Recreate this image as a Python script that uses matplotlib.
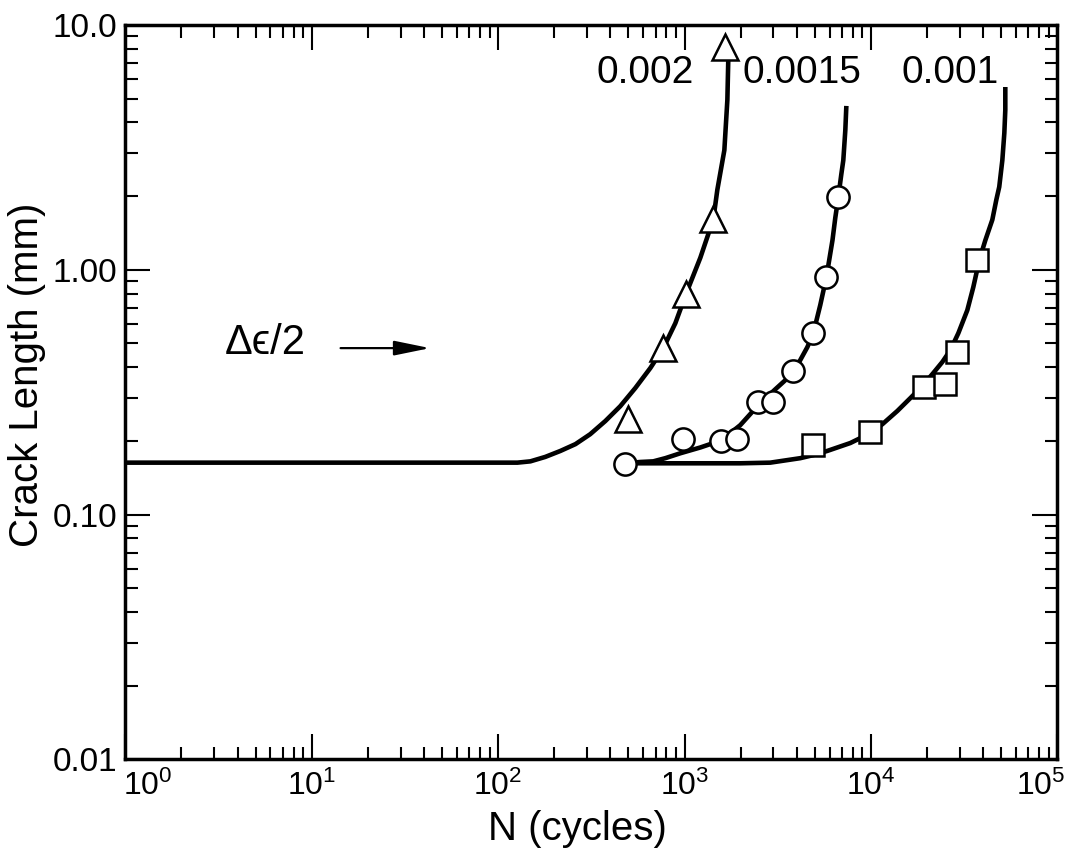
import matplotlib
matplotlib.use("Agg")
import matplotlib.pyplot as plt
import matplotlib.transforms as mtransforms
from matplotlib.ticker import LogLocator, NullFormatter, FixedLocator, FixedFormatter

plt.rcParams['font.family'] = ['Liberation Sans', 'DejaVu Sans']
plt.rcParams['mathtext.fontset'] = 'custom'
plt.rcParams['mathtext.rm'] = 'Liberation Sans'

# measured points, strain amplitude 0.002 (triangles)
n_002 = [500, 770, 1020, 1430, 1650]
a_002 = [0.245, 0.48, 0.80, 1.61, 8.1]

# strain amplitude 0.0015 (circles)
n_0015 = [480, 985, 1575, 1920, 2490, 3000, 3840, 4910, 5770, 6690]
a_0015 = [0.161, 0.203, 0.200, 0.203, 0.288, 0.289, 0.385, 0.551, 0.933, 1.98]

# strain amplitude 0.001 (squares)
n_001 = [4910, 9930, 19350, 25060, 29100, 37200]
a_001 = [0.192, 0.217, 0.332, 0.341, 0.461, 1.10]

# fitted growth curves (the 0.002 one carries the common plateau from N=1)
fit_n_002 = [1, 127, 149, 179, 216, 260, 312, 376, 452, 545, 656, 770, 893,
             1023, 1216, 1428, 1500, 1636, 1698, 1718]
fit_a_002 = [0.163, 0.163, 0.165, 0.172, 0.182, 0.194, 0.213, 0.241, 0.277,
             0.329, 0.397, 0.479, 0.605, 0.803, 1.12, 1.61, 2.12, 3.08, 4.94, 7.33]

fit_n_0015 = [481, 579, 680, 789, 949, 1216, 1575, 1992, 2489, 3070, 3474, 3836,
              4180, 4560, 4910, 5350, 5770, 6220, 6440, 6685, 6930, 7110, 7290, 7383]
fit_a_0015 = [0.162, 0.164, 0.165, 0.170, 0.178, 0.188, 0.201, 0.232, 0.280,
              0.325, 0.354, 0.385, 0.428, 0.483, 0.551, 0.718, 0.933, 1.32,
              1.63, 1.98, 2.44, 2.80, 3.72, 4.67]

fit_n_001 = [481, 741, 1216, 1992, 2885, 4180, 4910, 5835, 7750, 9930, 11520,
             13860, 16270, 18870, 21630, 24160, 26700, 29450, 32900, 35420,
             38200, 41100, 44800, 47070, 48800, 50700, 51970, 52600, 52600]
fit_a_001 = [0.162, 0.162, 0.162, 0.162, 0.163, 0.170, 0.175, 0.182, 0.196,
             0.215, 0.234, 0.265, 0.299, 0.335, 0.379, 0.420, 0.470, 0.551,
             0.684, 0.849, 1.10, 1.32, 1.60, 1.93, 2.18, 2.80, 3.62, 4.50, 5.58]

strain_labels = ['0.002', '0.0015', '0.001']

yticks = [0.01, 0.1, 1.0, 10.0]
ytick_labels = ['0.01', '0.10', '1.00', '10.0']
xticks = [1, 10, 100, 1000, 10000, 100000]
xtick_labels = [r'$\mathregular{10^{%d}}$' % k for k in range(6)]

fig = plt.figure(figsize=(10.8, 8.61), dpi=100)
ax = fig.add_axes([0.116, 0.118, 0.863, 0.853])

ax.set_xscale('log')
ax.set_yscale('log')
ax.set_xlim(1, 1e5)
ax.set_ylim(0.01, 10)

lw = 3.3
for xs, ys in [(fit_n_002, fit_a_002), (fit_n_0015, fit_a_0015), (fit_n_001, fit_a_001)]:
    ax.plot(xs, ys, color='black', lw=lw, solid_capstyle='butt',
            solid_joinstyle='round', zorder=2)

mk = dict(linestyle='none', markerfacecolor='white', markeredgecolor='black',
          markeredgewidth=1.8, zorder=3)
ax.plot(n_002, a_002, marker='^', markersize=19, **mk)
ax.plot(n_0015, a_0015, marker='o', markersize=16, **mk)
ax.plot(n_001, a_001, marker='s', markersize=15.5, **mk)

# curve labels along the top
for txt, xf in zip(strain_labels, [0.506, 0.662, 0.833]):
    ax.text(xf, 0.935, txt, transform=ax.transAxes, fontsize=28,
            ha='left', va='center')

ax.text(0.150, 0.567, 'Δϵ/2', transform=ax.transAxes, fontsize=30,
        ha='center', va='center', family=['Liberation Sans', 'DejaVu Sans'])
ax.annotate('', xy=(0.327, 0.560), xytext=(0.231, 0.560),
            xycoords='axes fraction', textcoords='axes fraction',
            arrowprops=dict(arrowstyle='-|>,head_length=2.2,head_width=0.45',
                            color='black', lw=1.6, shrinkA=0, shrinkB=0))

# ticks on all four sides, pointing in
ax.xaxis.set_major_locator(FixedLocator(xticks))
ax.xaxis.set_major_formatter(FixedFormatter(xtick_labels))
ax.yaxis.set_major_locator(FixedLocator(yticks))
ax.yaxis.set_major_formatter(FixedFormatter(ytick_labels))
ax.xaxis.set_minor_locator(LogLocator(base=10, subs=range(2, 10), numticks=20))
ax.yaxis.set_minor_locator(LogLocator(base=10, subs=range(2, 10), numticks=20))
ax.xaxis.set_minor_formatter(NullFormatter())
ax.yaxis.set_minor_formatter(NullFormatter())

ax.tick_params(which='both', direction='in', top=True, right=True, width=1.5,
               color='black')
ax.tick_params(which='major', length=18)
ax.tick_params(which='minor', length=9)
ax.tick_params(axis='x', which='major', labelsize=23, pad=8)
ax.tick_params(axis='y', which='major', labelsize=24, pad=6)

# nudge the end labels inward so 10^0 and 10^5 sit inside the frame
end_ticks = ax.xaxis.get_major_ticks()
for tick, dx in [(end_ticks[0], 16), (end_ticks[-1], -12)]:
    lab = tick.label1
    lab.set_transform(lab.get_transform() +
                      mtransforms.ScaledTranslation(dx / 72, 0, fig.dpi_scale_trans))

for sp in ax.spines.values():
    sp.set_linewidth(2.5)

ax.set_xlabel('N (cycles)', fontsize=29)
ax.set_ylabel('Crack Length (mm)', fontsize=29)
ax.xaxis.set_label_coords(0.485, -0.069)
ax.yaxis.set_label_coords(-0.085, 0.523)

fig.savefig('out.png', dpi=100, facecolor='white')
